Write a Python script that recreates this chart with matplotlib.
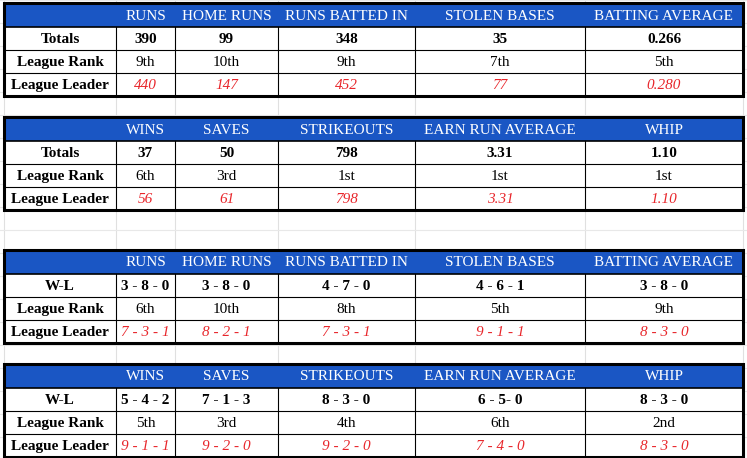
import matplotlib.pyplot as plt
from matplotlib.patches import Rectangle

W, H = 747, 458
COLS = [4, 116, 175, 278, 415, 585, 743]
BLUE = "#1a56c4"
RED = "#e8262b"
ROW_LABELS_STATS = ["Totals", "League Rank", "League Leader"]
ROW_LABELS_WL = ["W-L", "League Rank", "League Leader"]

hit_cats = ["RUNS", "HOME RUNS", "RUNS BATTED IN", "STOLEN BASES", "BATTING AVERAGE"]
pitch_cats = ["WINS", "SAVES", "STRIKEOUTS", "EARN RUN AVERAGE", "WHIP"]

hit_totals = ["390", "99", "348", "35", "0.266"]
hit_rank = ["9th", "10th", "9th", "7th", "5th"]
hit_leader = ["440", "147", "452", "77", "0.280"]

pitch_totals = ["37", "50", "798", "3.31", "1.10"]
pitch_rank = ["6th", "3rd", "1st", "1st", "1st"]
pitch_leader = ["56", "61", "798", "3.31", "1.10"]

hit_wl = ["3 - 8 - 0", "3 - 8 - 0", "4 - 7 - 0", "4 - 6 - 1", "3 - 8 - 0"]
hit_wl_rank = ["6th", "10th", "8th", "5th", "9th"]
hit_wl_leader = ["7 - 3 - 1", "8 - 2 - 1", "7 - 3 - 1", "9 - 1 - 1", "8 - 3 - 0"]

pitch_wl = ["5 - 4 - 2", "7 - 1 - 3", "8 - 3 - 0", "6 - 5- 0", "8 - 3 - 0"]
pitch_wl_rank = ["5th", "3rd", "4th", "6th", "2nd"]
pitch_wl_leader = ["9 - 1 - 1", "9 - 2 - 0", "9 - 2 - 0", "7 - 4 - 0", "8 - 3 - 0"]

tables = [
    (3, hit_cats, ROW_LABELS_STATS, hit_totals, hit_rank, hit_leader),
    (117, pitch_cats, ROW_LABELS_STATS, pitch_totals, pitch_rank, pitch_leader),
    (250, hit_cats, ROW_LABELS_WL, hit_wl, hit_wl_rank, hit_wl_leader),
    (364, pitch_cats, ROW_LABELS_WL, pitch_wl, pitch_wl_rank, pitch_wl_leader),
]

fig = plt.figure(figsize=(W / 100, H / 100), dpi=100)
ax = fig.add_axes([0, 0, 1, 1])
ax.set_xlim(0, W)
ax.set_ylim(H, 0)
ax.axis("off")
plt.rcParams["font.family"] = ["Liberation Serif", "DejaVu Serif"]

# faint spreadsheet grid behind
for x in COLS:
    ax.plot([x, x], [0, H], color="#e0e0e0", lw=0.8, zorder=0)
for y in range(0, H, 23):
    ax.plot([0, W], [y, y], color="#e8e8e8", lw=0.8, zorder=0)

ROW_H = [24, 23, 23, 23]
for top, cats, labels, r1, r2, r3 in tables:
    ys = [top]
    for h in ROW_H:
        ys.append(ys[-1] + h)
    bottom = ys[-1]
    ax.add_patch(Rectangle((COLS[0], top), COLS[-1] - COLS[0], bottom - top,
                           facecolor="white", edgecolor="none", zorder=1))
    ax.add_patch(Rectangle((COLS[0], top), COLS[-1] - COLS[0], ROW_H[0],
                           facecolor=BLUE, edgecolor="none", zorder=2))
    for i, c in enumerate(cats):
        cx = (COLS[i + 1] + COLS[i + 2]) / 2
        ax.text(cx, (ys[0] + ys[1]) / 2 + 1, c, color="white", fontsize=11,
                ha="center", va="center", zorder=3)
    for y in ys[2:-1]:
        ax.plot([COLS[0], COLS[-1]], [y, y], color="black", lw=0.8, zorder=3)
    for x in COLS[1:-1]:
        ax.plot([x, x], [ys[1], bottom], color="black", lw=0.8, zorder=3)
    ax.plot([COLS[0], COLS[-1]], [ys[1], ys[1]], color="black", lw=1.2, zorder=3)
    ax.add_patch(Rectangle((COLS[0], top), COLS[-1] - COLS[0], bottom - top,
                           facecolor="none", edgecolor="black", lw=2.2, zorder=4))
    for r, (lab, vals) in enumerate(zip(labels, [r1, r2, r3])):
        cy = (ys[r + 1] + ys[r + 2]) / 2 + 1
        ax.text((COLS[0] + COLS[1]) / 2, cy, lab, fontsize=11, fontweight="bold",
                ha="center", va="center", zorder=5)
        for i, v in enumerate(vals):
            cx = (COLS[i + 1] + COLS[i + 2]) / 2
            kw = dict(fontsize=11, ha="center", va="center", zorder=5)
            if r == 0:
                kw["fontweight"] = "bold"
            elif r == 2:
                kw["color"] = RED
                kw["style"] = "italic"
            ax.text(cx, cy, v, **kw)

fig.savefig("out.png", dpi=100)
